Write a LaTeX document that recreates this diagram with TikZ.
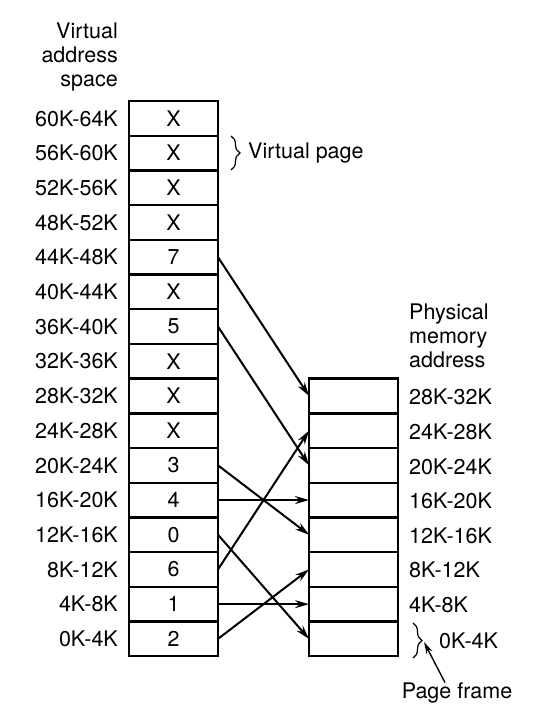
\documentclass[tikz,border=0pt]{standalone}
\usepackage{fontspec}
\setmainfont{TeX Gyre Heros}
\usetikzlibrary{arrows.meta,positioning,decorations.pathreplacing}
\tikzset{
  vcell/.style={draw=black,line width=2.4pt,minimum width=89pt,minimum height=34.7pt,inner sep=0pt,outer sep=0pt},
  vaddr/.style={inner sep=0pt,anchor=east},
  paddr/.style={inner sep=0pt,anchor=west},
  vhead/.style={inner sep=0pt,align=right,anchor=north east},
  phead/.style={inner sep=0pt,align=left,anchor=north west},
  varr/.style={-{Stealth[length=14pt,width=8pt]},line width=2pt,draw=black},
  vpoint/.style={-{Stealth[length=12pt,width=6.5pt]},line width=1.4pt,draw=black},
  vbrace/.style={decorate,decoration={brace,amplitude=9pt},line width=1.2pt}
}
\begin{document}
\begin{tikzpicture}[x=1pt,y=-1pt,font=\fontsize{21.5}{24}\selectfont]
  \useasboundingbox[fill=white] (0,0) rectangle (538,728);
  % virtual address space
  \node[vhead] (vtitle) at (118,23) {Virtual\\ address\\ space};
  \node[vcell] (v15) at (173.5,118.35) {X};  \node[vaddr] at (118,118.35) {60K-64K};
  \node[vcell] (v14) at (173.5,153.05) {X};  \node[vaddr] at (118,153.05) {56K-60K};
  \node[vcell] (v13) at (173.5,187.75) {X};  \node[vaddr] at (118,187.75) {52K-56K};
  \node[vcell] (v12) at (173.5,222.45) {X};  \node[vaddr] at (118,222.45) {48K-52K};
  \node[vcell] (v11) at (173.5,257.15) {7};  \node[vaddr] at (118,257.15) {44K-48K};
  \node[vcell] (v10) at (173.5,291.85) {X};  \node[vaddr] at (118,291.85) {40K-44K};
  \node[vcell] (v9)  at (173.5,326.55) {5};  \node[vaddr] at (118,326.55) {36K-40K};
  \node[vcell] (v8)  at (173.5,361.25) {X};  \node[vaddr] at (118,361.25) {32K-36K};
  \node[vcell] (v7)  at (173.5,395.95) {X};  \node[vaddr] at (118,395.95) {28K-32K};
  \node[vcell] (v6)  at (173.5,430.65) {X};  \node[vaddr] at (118,430.65) {24K-28K};
  \node[vcell] (v5)  at (173.5,465.35) {3};  \node[vaddr] at (118,465.35) {20K-24K};
  \node[vcell] (v4)  at (173.5,500.05) {4};  \node[vaddr] at (118,500.05) {16K-20K};
  \node[vcell] (v3)  at (173.5,534.75) {0};  \node[vaddr] at (118,534.75) {12K-16K};
  \node[vcell] (v2)  at (173.5,569.45) {6};  \node[vaddr] at (118,569.45) {8K-12K};
  \node[vcell] (v1)  at (173.5,604.15) {1};  \node[vaddr] at (118,604.15) {4K-8K};
  \node[vcell] (v0)  at (173.5,638.85) {2};  \node[vaddr] at (118,638.85) {0K-4K};
  % physical memory
  \node[phead] (ptitle) at (409,304) {Physical\\ memory\\ address};
  \node[vcell] (p7) at (353.5,395.95) {};  \node[paddr] at (409,397) {28K-32K};
  \node[vcell] (p6) at (353.5,430.65) {};  \node[paddr] at (409,432) {24K-28K};
  \node[vcell] (p5) at (353.5,465.35) {};  \node[paddr] at (409,467) {20K-24K};
  \node[vcell] (p4) at (353.5,500.05) {};  \node[paddr] at (409,501) {16K-20K};
  \node[vcell] (p3) at (353.5,534.75) {};  \node[paddr] at (409,536) {12K-16K};
  \node[vcell] (p2) at (353.5,569.45) {};  \node[paddr] at (409,570) {8K-12K};
  \node[vcell] (p1) at (353.5,604.15) {};  \node[paddr] at (409,605) {4K-8K};
  \node[vcell] (p0) at (353.5,638.85) {};  \node[paddr] (fzero) at (439,641) {0K-4K};
  % mapping
  \draw[varr] (v11.east) -- (p7.west); \draw[varr] (v9.east) -- (p5.west);
  \draw[varr] (v5.east) -- (p3.west);  \draw[varr] (v4.east) -- (p4.west);
  \draw[varr] (v3.east) -- (p0.west);  \draw[varr] (v2.east) -- (p6.west);
  \draw[varr] (v1.east) -- (p1.west);  \draw[varr] (v0.east) -- (p2.west);
  % annotations
  \draw[vbrace] (231,136) -- (231,170);
  \node[paddr] (vpage) at (248,153) {Virtual page};
  \draw[vbrace] (413,623) -- (413,658);
  \coordinate (ftip) at (424,642);
  \node[inner sep=0pt] (pframe) at (457,693) {Page frame};
  \draw[vpoint] ([xshift=-12pt]pframe.north) -- (ftip);
\end{tikzpicture}
\end{document}
